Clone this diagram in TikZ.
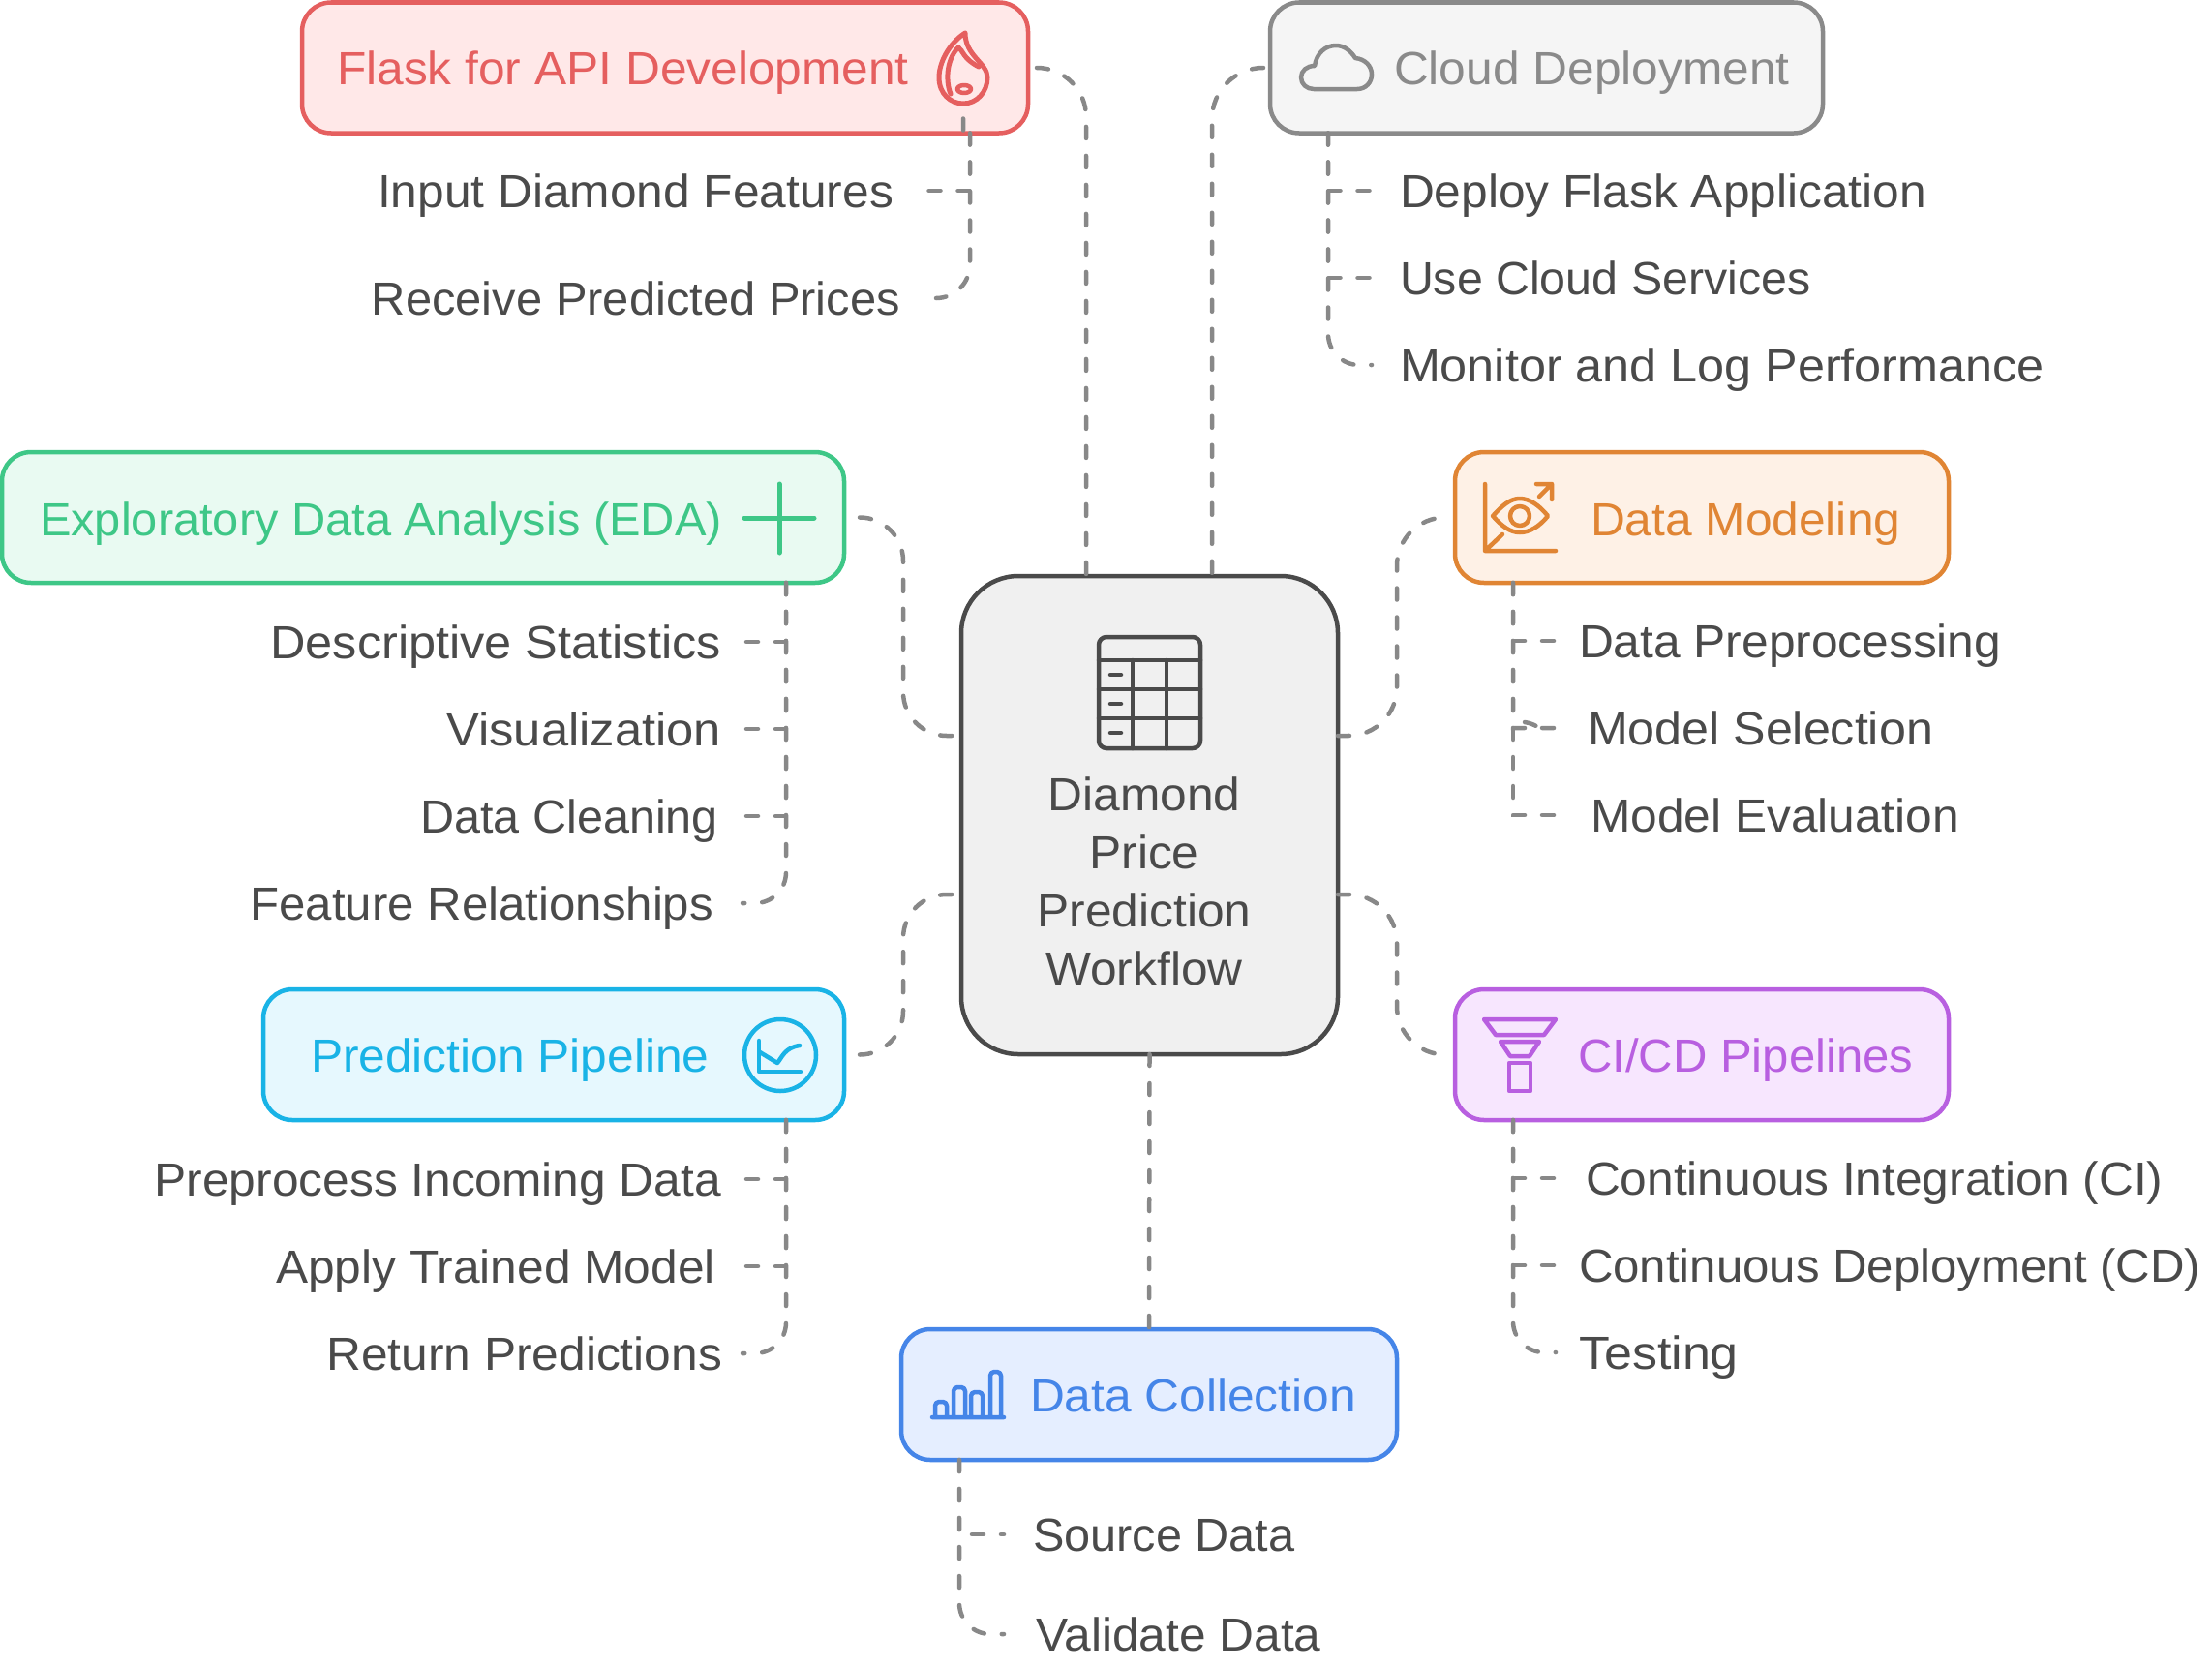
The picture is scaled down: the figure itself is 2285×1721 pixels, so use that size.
\documentclass[tikz,border=0pt]{standalone}
\usepackage{fontspec}
\setmainfont[FakeStretch=1.035]{Liberation Sans}
\usetikzlibrary{positioning,calc}
\definecolor{flaskc}{HTML}{E55F5F}
\definecolor{flaskf}{HTML}{FFE8E8}
\definecolor{cloudc}{HTML}{8A8A8A}
\definecolor{cloudf}{HTML}{F5F5F5}
\definecolor{edac}{HTML}{3EC787}
\definecolor{edaf}{HTML}{E9FAF2}
\definecolor{modelc}{HTML}{E08534}
\definecolor{modelf}{HTML}{FEF1E6}
\definecolor{predc}{HTML}{19B3E6}
\definecolor{predf}{HTML}{E6F8FE}
\definecolor{cicdc}{HTML}{B85FE0}
\definecolor{cicdf}{HTML}{F7E6FE}
\definecolor{collc}{HTML}{4585E8}
\definecolor{collf}{HTML}{E5EEFF}
\definecolor{inkc}{HTML}{4A4A4A}
\definecolor{linkc}{HTML}{888888}
\begin{document}
\begin{tikzpicture}[x=1pt,y=-1pt,
				box/.style 2 args={draw=#1,fill=#2,line width=4.5pt,rectangle,rounded corners=30pt,minimum height=135pt,inner sep=0pt,outer sep=0pt},
				title/.style={inner sep=0pt,outer sep=0pt,text height=35pt,text depth=0pt,font=\fontsize{48}{60}\selectfont},
				leaf/.style={title,text=inkc},
				fit width/.style={xscale=#1,transform shape},
				link/.style={draw=linkc,line width=4.5pt,line cap=round,dash pattern=on 12pt off 18pt},
				icon/.style={line width=4.5pt,line cap=round,line join=round}]
				\useasboundingbox (0,0) rectangle (2285,1721);
				\node (center) [box={inkc}{black!6},rounded corners=59pt,minimum width=389pt,minimum height=494pt] at (1187.5,842) {};
				\node (flask)  [box={flaskc}{flaskf},minimum width=750pt] at (687,70) {};
				\node (cloud)  [box={cloudc}{cloudf},minimum width=571pt] at (1597.5,70) {};
				\node (eda)    [box={edac}{edaf},minimum width=870pt] at (437,534.5) {};
				\node (model)  [box={modelc}{modelf},minimum width=510pt] at (1758,534.5) {};
				\node (pred)   [box={predc}{predf},minimum width=600pt] at (572,1089.5) {};
				\node (cicd)   [box={cicdc}{cicdf},minimum width=510pt] at (1758,1089.5) {};
				\node (coll)   [box={collc}{collf},minimum width=512pt] at (1187,1440.5) {};

				\node (flasktitle) [title,text=flaskc,anchor=west] at (348,70) {Flask for API Development};
				\node (cloudtitle) [title,text=cloudc,anchor=west] at (1440,70) {Cloud Deployment};
				\node (edatitle)   [title,text=edac,anchor=west,fit width=.982] at (41,536) {Exploratory Data Analysis (EDA)};
				\node (modeltitle) [title,text=modelc,anchor=west] at (1643,536) {Data Modeling};
				\node (predtitle)  [title,text=predc,anchor=west] at (321,1090) {Prediction Pipeline};
				\node (cicdtitle)  [title,text=cicdc,anchor=west,fit width=.988] at (1630,1090) {CI/CD Pipelines};
				\node (colltitle)  [title,text=collc,anchor=west] at (1064,1441) {Data Collection};
				\node (centertitle) [title,text=inkc,align=center,text height=,text depth=] at (1182,910) {Diamond\\Price\\Prediction\\Workflow};

				\node (input)    [leaf,anchor=east] at (923,197)  {Input Diamond Features};
				\node (receive)  [leaf,anchor=east,fit width=.984] at (930,308)  {Receive Predicted Prices};
				\node (deploy)   [leaf,anchor=west] at (1446,197) {Deploy Flask Application};
				\node (services) [leaf,anchor=west,fit width=.973] at (1446,287) {Use Cloud Services};
				\node (monitor)  [leaf,anchor=west,fit width=1.013] at (1446,377) {Monitor and Log Performance};
				\node (stats)    [leaf,anchor=east,fit width=1.016] at (745,663) {Descriptive Statistics};
				\node (visual)   [leaf,anchor=east,fit width=1.02] at (745,753) {Visualization};
				\node (cleaning) [leaf,anchor=east,fit width=.977] at (742,843) {Data Cleaning};
				\node (features) [leaf,anchor=east,fit width=.99] at (737,933) {Feature Relationships};
				\node (preproc)  [leaf,anchor=west] at (1631,662) {Data Preprocessing};
				\node (select)   [leaf,anchor=west,fit width=1.01] at (1640,752) {Model Selection};
				\node (evaluate) [leaf,anchor=west] at (1643,842) {Model Evaluation};
				\node (incoming) [leaf,anchor=east] at (745,1218) {Preprocess Incoming Data};
				\node (apply)    [leaf,anchor=east] at (739,1308) {Apply Trained Model};
				\node (return)   [leaf,anchor=east] at (746,1398) {Return Predictions};
				\node (integ)    [leaf,anchor=west] at (1638,1217) {Continuous Integration (CI)};
				\node (delivery) [leaf,anchor=west,fit width=.99] at (1631,1307) {Continuous Deployment (CD)};
				\node (testing)  [leaf,anchor=west,fit width=1.047] at (1631,1397) {Testing};
				\node (source)   [leaf,anchor=west,fit width=.979] at (1067,1585) {Source Data};
				\node (validate) [leaf,anchor=west] at (1070,1688) {Validate Data};

				% from the boxes to the middle
				\draw[link,rounded corners=51pt] ([xshift=9pt]flask.east) -| ([xshift=-65.5pt]center.north);
				\draw[link,rounded corners=53pt] ([xshift=-7pt]cloud.west) -| ([xshift=64.5pt]center.north);
				\draw[link] ([xshift=16pt]eda.east) [rounded corners=45pt] -| ([shift={(-60pt,82pt)}]center.west) [rounded corners=58pt] -- ([yshift=82pt]center.west);
				\draw[link] ([xshift=16pt]pred.east) [rounded corners=45pt] -| ([shift={(-60pt,-82pt)}]center.west) [rounded corners=58pt] -- ([yshift=-82pt]center.west);
				\draw[link] ([yshift=82pt]center.east) [rounded corners=50pt] -| ([xshift=-60pt]model.west) [rounded corners=43pt] -- ([xshift=-15pt]model.west);
				\draw[link] ([yshift=-82pt]center.east) [rounded corners=50pt] -| ([xshift=-60pt]cicd.west) [rounded corners=43pt] -- ([xshift=-15pt]cicd.west);
				\draw[link] (center.south) -- (coll.north);

				% leaves
				\draw[link] ([xshift=-60pt]flask.south east) |- ([xshift=35pt]input.east);
				\draw[link,rounded corners=35pt] ([xshift=-60pt]flask.south east) |- ([xshift=37pt]receive.east)
					([shift={(-67pt,15pt)}]flask.south east) -- ([xshift=-67pt]flask.south east);
				\draw[link] ([xshift=60pt]cloud.south west) |- ([xshift=-29pt]deploy.west);
				\draw[link] ([xshift=60pt]cloud.south west) |- ([xshift=-29pt]services.west);
				\draw[link,rounded corners=32pt] ([xshift=60pt]cloud.south west) |- ([xshift=-29pt]monitor.west);
				\draw[link] ([xshift=-60pt]eda.south east) |- ([xshift=22pt]stats.east);
				\draw[link] ([xshift=-60pt]eda.south east) |- ([xshift=22pt]visual.east);
				\draw[link] ([xshift=-60pt]eda.south east) |- ([xshift=25pt]cleaning.east);
				\draw[link,rounded corners=32pt] ([xshift=-60pt]eda.south east) |- ([xshift=30pt]features.east);
				\draw[link] ([xshift=60pt]model.south west) |- ([xshift=-24pt]preproc.west);
				\draw[link] ([xshift=60pt]model.south west) |- ([xshift=-31pt]select.west)
					([shift={(-65pt,6pt)}]select.west) to[bend left=12] ([xshift=-50pt]select.west);
				\draw[link] ([xshift=60pt]model.south west) |- ([xshift=-36pt]evaluate.west);
				\draw[link] ([xshift=-60pt]pred.south east) |- ([xshift=22pt]incoming.east);
				\draw[link] ([xshift=-60pt]pred.south east) |- ([xshift=28pt]apply.east);
				\draw[link,rounded corners=32pt] ([xshift=-60pt]pred.south east) |- ([xshift=21pt]return.east);
				\draw[link] ([xshift=60pt]cicd.south west) |- ([xshift=-31pt]integ.west);
				\draw[link] ([xshift=60pt]cicd.south west) |- ([xshift=-24pt]delivery.west);
				\draw[link,rounded corners=32pt] ([xshift=60pt]cicd.south west) |- ([xshift=-24pt]testing.west);
				\draw[link] ([xshift=60pt]coll.south west) |- ([xshift=-30pt]source.west);
				\draw[link,rounded corners=32pt] ([xshift=60pt]coll.south west) |- ([xshift=-33pt]validate.west);

				% icons
				\draw[icon,draw=inkc,rounded corners=8pt] (1135,658) rectangle (1240,773);
				\draw[icon,draw=inkc] (1135,682) -- (1240,682) (1135,712) -- (1240,712) (1135,742) -- (1240,742)
					(1170,682) -- (1170,773) (1205,682) -- (1205,773)
					(1147,697) -- (1158,697) (1147,727) -- (1158,727) (1147,757) -- (1158,757);
				\draw[icon,draw=flaskc,line width=5pt] (997,34) .. controls (980,45) and (970,65) .. (970,80) .. controls (970,97) and (982,107) .. (995,107)
					.. controls (1009,107) and (1020,95) .. (1020,80) .. controls (1020,65) and (997,58) .. (997,34);
				\draw[icon,draw=flaskc,line width=5pt] (982,97) .. controls (977,85) and (977,62) .. (990,49) .. controls (995,52) and (994,60) .. (1011,69);
				\draw[icon,draw=flaskc] (996,92) ellipse (7pt and 4pt);
				\draw[icon,draw=cloudc] (1357,92) -- (1402,92) .. controls (1411,92) and (1417,85) .. (1417,77) .. controls (1417,68) and (1410,61) .. (1400,60)
					.. controls (1395,52) and (1388,47) .. (1380,47) .. controls (1369,47) and (1360,55) .. (1358,68)
					.. controls (1350,68) and (1344,73) .. (1344,80) .. controls (1344,87) and (1350,92) .. (1357,92) -- cycle;
				\draw[icon,draw=edac,line width=5pt] (769,535) -- (841,535) (805,500) -- (805,571);
				\draw[icon,draw=modelc] (1534,500) -- (1534,569) -- (1607,569) (1534,569) -- (1552,552)
					(1590,513) -- (1603,500) (1587,500) -- (1603,500) -- (1603,516);
				\draw[icon,draw=modelc] (1542,533) .. controls (1552,522) and (1560,515) .. (1570,515) .. controls (1580,515) and (1590,522) .. (1599,533)
					.. controls (1590,544) and (1580,550) .. (1570,550) .. controls (1560,550) and (1552,544) .. (1542,533) -- cycle;
				\draw[icon,draw=modelc] (1570,533) circle (10pt);
				\draw[icon,draw=predc] (806,1090) circle (37pt);
				\draw[icon,draw=predc] (784,1075) -- (784,1107) -- (827,1107);
				\draw[icon,draw=predc] (785,1087) -- (803,1098) .. controls (808,1092) and (811,1082) .. (826,1080);
				\draw[icon,draw=cicdc] (1533,1053) -- (1607,1053) -- (1595,1069) -- (1545,1069) -- cycle;
				\draw[icon,draw=cicdc] (1550,1076) -- (1590,1076) -- (1580,1091) -- (1560,1091) -- cycle;
				\draw[icon,draw=cicdc] (1559,1098) rectangle (1581,1127);
				\draw[icon,draw=collc,rounded corners=4pt] (963,1464) -- (1037,1464)
					(966,1464) -- (966,1448) -- (978,1448) -- (978,1464)
					(985,1464) -- (985,1433) -- (997,1433) -- (997,1464)
					(1003,1464) -- (1003,1438) -- (1015,1438) -- (1015,1464)
					(1023,1464) -- (1023,1417) -- (1034,1417) -- (1034,1464);
			\end{tikzpicture}
\end{document}
